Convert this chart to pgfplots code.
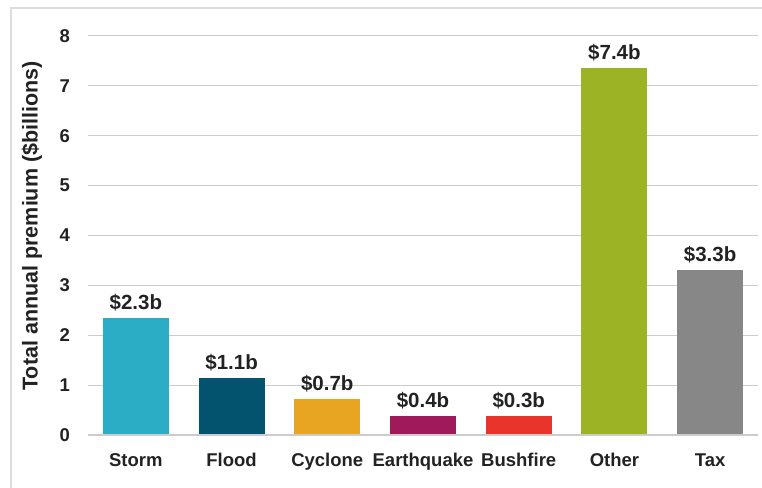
\documentclass[border=0pt]{standalone}
\usepackage{fontspec}
\setmainfont{Liberation Sans}
\usepackage{pgfplots}
\pgfplotsset{compat=1.18}
\definecolor{cStorm}{HTML}{2BADC6}
\definecolor{cFlood}{HTML}{03536F}
\definecolor{cCyclone}{HTML}{E8A521}
\definecolor{cQuake}{HTML}{A0195A}
\definecolor{cFire}{HTML}{E8342B}
\definecolor{cOther}{HTML}{9BB324}
\definecolor{cTax}{HTML}{878787}
\definecolor{txt}{HTML}{222222}
\definecolor{gridc}{HTML}{CCCCCC}
\definecolor{framec}{HTML}{DDDDDD}
\begin{document}
\begin{tikzpicture}[x=1bp,y=1bp]
\useasboundingbox (0,0) rectangle (762,488);
\draw[framec, line width=1.2bp] (11,0) -- (11,480) -- (762,480);
\begin{axis}[
  at={(88bp,53bp)}, anchor=south west,
  scale only axis, width=670bp, height=399bp,
  xmin=-0.5, xmax=6.5, ymin=0, ymax=8,
  ybar, bar width=66bp,
  axis line style={draw=none},
  xmajorgrids=false, ymajorgrids=true,
  y grid style={draw=gridc, line width=1bp},
  ytick={0,1,...,8},
  xtick={0,1,2,3,4,5,6},
  xticklabels={Storm,Flood,Cyclone,Earthquake,Bushfire,Other,Tax},
  major tick length=0pt,
  tick style={draw=none},
  /pgf/number format/assume math mode=true,
  tick label style={font=\fontsize{18.5bp}{20bp}\selectfont\bfseries, text=txt},
  xticklabel style={anchor=base, inner sep=0pt, yshift=-32bp},
  yticklabel style={anchor=east, inner sep=0pt, xshift=-18bp},
  ylabel={Total annual premium (\$billions)},
  ylabel style={at={(axis description cs:-0.0836,0.524)}, anchor=center, font=\fontsize{21.5bp}{23bp}\selectfont\bfseries, text=txt},
  nodes near coords,
  point meta=explicit symbolic,
  nodes near coords style={anchor=base, inner sep=0pt, yshift=8.5bp, font=\fontsize{20.5bp}{22bp}\selectfont\bfseries, text=txt},
  clip=false,
]
\addplot[fill=cStorm, draw=none, bar shift=0pt] coordinates {(0,2.35) [\$2.3b]};
\addplot[fill=cFlood, draw=none, bar shift=0pt] coordinates {(1,1.14) [\$1.1b]};
\addplot[fill=cCyclone, draw=none, bar shift=0pt] coordinates {(2,0.72) [\$0.7b]};
\addplot[fill=cQuake, draw=none, bar shift=0pt] coordinates {(3,0.38) [\$0.4b]};
\addplot[fill=cFire, draw=none, bar shift=0pt] coordinates {(4,0.38) [\$0.3b]};
\addplot[fill=cOther, draw=none, bar shift=0pt] coordinates {(5,7.35) [\$7.4b]};
\addplot[fill=cTax, draw=none, bar shift=0pt] coordinates {(6,3.31) [\$3.3b]};
\draw[gridc, line width=1.4bp] (axis cs:-0.5,0) -- (axis cs:6.5,0);
\end{axis}
\end{tikzpicture}
\end{document}
